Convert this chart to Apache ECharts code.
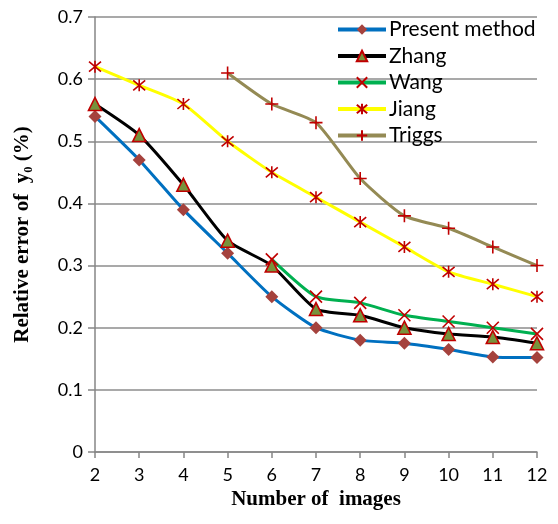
<!DOCTYPE html>
<html>
<head>
<meta charset="utf-8">
<script src="https://cdn.jsdelivr.net/npm/echarts@6/dist/echarts.min.js"></script>
<style>
  html, body { margin: 0; padding: 0; background: #fff; }
  #chart { width: 558px; height: 524px; }
</style>
</head>
<body>
<div id="chart"></div>
<script>
'use strict';

var imageCounts = ['2', '3', '4', '5', '6', '7', '8', '9', '10', '11', '12'];
var presentMethod = [0.54, 0.47, 0.39, 0.32, 0.25, 0.2, 0.18, 0.175, 0.165, 0.153, 0.152];
var zhang = [0.56, 0.51, 0.43, 0.34, 0.3, 0.23, 0.22, 0.2, 0.19, 0.185, 0.175];
var wang = [null, null, null, null, 0.31, 0.25, 0.24, 0.22, 0.21, 0.2, 0.19];
var jiang = [0.62, 0.59, 0.56, 0.5, 0.45, 0.41, 0.37, 0.33, 0.29, 0.27, 0.25];
var triggs = [null, null, null, 0.61, 0.56, 0.53, 0.44, 0.38, 0.36, 0.33, 0.3];

var chart = echarts.init(document.getElementById('chart'));

var crossPath = 'path://M0,0L10,10M10,0L0,10';
var starPath = 'path://M0,0L10,10M10,0L0,10M5,-1L5,11';
var plusPath = 'path://M5,0L5,10M0,5L10,5';

function makeSeries(name, data, lineColor, symbol, size, fill, border) {
    return {
        name: name,
        type: 'line',
        data: data,
        smooth: 0.2,
        symbol: symbol,
        symbolSize: size,
        showSymbol: true,
        lineStyle: { color: lineColor, width: 3 },
        itemStyle: { color: fill, borderColor: border, borderWidth: border === 'none' ? 0 : 1.6 },
        emphasis: { disabled: true }
    };
}

var option = {
    animation: false,
    grid: { left: 95, right: 21, top: 17, bottom: 72 },
    legend: {
        orient: 'vertical',
        left: 331,
        top: 14,
        itemWidth: 48,
        itemHeight: 13,
        itemGap: 5.5,
        lineStyle: { width: 4 },
        textStyle: { fontFamily: 'Lato', fontSize: 21, color: '#000', padding: [0, 0, 0, -2] },
        data: ['Present method', 'Zhang', 'Wang', 'Jiang', 'Triggs']
    },
    xAxis: {
        type: 'category',
        data: imageCounts,
        boundaryGap: false,
        name: 'Number of  images',
        nameLocation: 'middle',
        nameGap: 33,
        nameTextStyle: { fontFamily: 'Liberation Serif', fontWeight: 'bold', fontSize: 21, color: '#000' },
        axisLine: { lineStyle: { color: '#868686', width: 1.5 } },
        axisTick: { alignWithLabel: true, length: 6, lineStyle: { color: '#868686', width: 1.5 } },
        axisLabel: { fontFamily: 'Lato', fontSize: 18, color: '#000', margin: 14 }
    },
    yAxis: {
        type: 'value',
        min: 0,
        max: 0.7,
        interval: 0.1,
        name: 'Relative error of  y\u2080 (%)',
        nameLocation: 'middle',
        nameGap: 62,
        nameTextStyle: { fontFamily: 'Liberation Serif', fontWeight: 'bold', fontSize: 21, color: '#000' },
        axisLine: { show: true, lineStyle: { color: '#868686', width: 1.5 } },
        axisTick: { show: true, length: 7, lineStyle: { color: '#868686', width: 1.5 } },
        axisLabel: { fontFamily: 'Lato', fontSize: 18, color: '#000', margin: 12,
            formatter: function (v) { return v === 0 ? '0' : v.toFixed(1); } },
        splitLine: { lineStyle: { color: '#8c8c8c', width: 1.5 } }
    },
    series: [
        makeSeries('Present method', presentMethod, '#0070C0', 'diamond', 13, '#A5423D', 'none'),
        makeSeries('Zhang', zhang, '#000000', 'triangle', 13, '#77933C', '#C00000'),
        makeSeries('Wang', wang, '#00B050', crossPath, 12, 'none', '#C00000'),
        makeSeries('Jiang', jiang, '#FFFF00', starPath, 12, 'none', '#C00000'),
        makeSeries('Triggs', triggs, '#948A54', plusPath, 13, 'none', '#C00000')
    ]
};

chart.setOption(option);
</script>
</body>
</html>
